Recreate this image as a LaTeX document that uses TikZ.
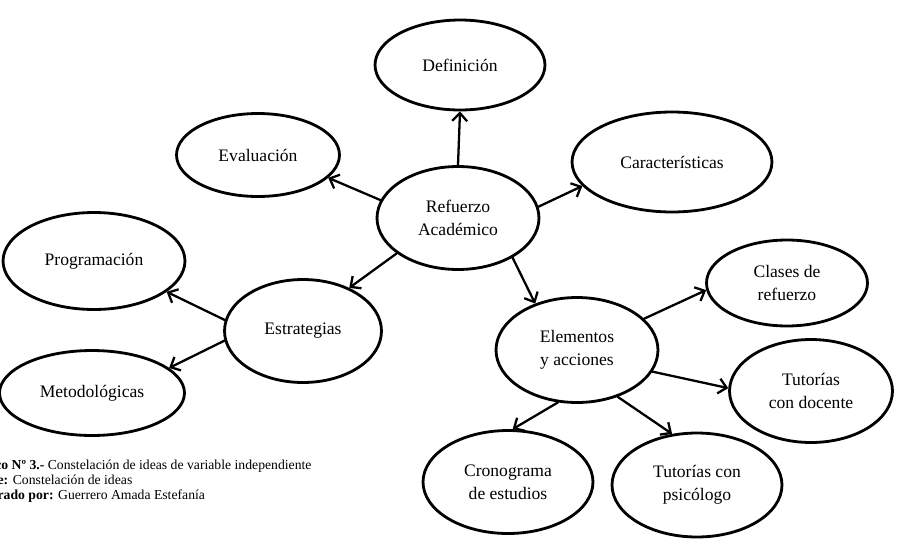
\documentclass[tikz,border=0pt]{standalone}
\usepackage{fontspec}
\setmainfont{Liberation Serif}
\usetikzlibrary{shapes.geometric,arrows.meta}
\tikzset{
    idea/.style={
        draw, ellipse, line width=1.6pt, inner sep=0pt, align=center,
        font=\fontsize{10}{13}\selectfont
    },
    link/.style={
        line width=1.3pt,
        -{Straight Barb[length=1.6mm,width=3mm,line width=1.3pt]}
    },
    capt/.style={
        anchor=north west, align=left, inner sep=0pt,
        font=\fontsize{7.8}{8.8}\selectfont
    }
}
\begin{document}
\begin{tikzpicture}[x=0.02cm,y=-0.02cm,line cap=round,line join=round]

% --- frame (pixel grid, y down) ---
    \useasboundingbox (0,0) rectangle (900,538);

% central idea
    \node[idea, minimum width=3.24cm, minimum height=2.06cm] (ref) at (458,218) {Refuerzo\\Académico};

% first ring
    \node[idea, minimum width=3.4cm,  minimum height=1.8cm]  (def) at (460,65)  {Definición};
    \node[idea, minimum width=3.26cm, minimum height=1.66cm] (eva) at (258,155) {Evaluación};
    \node[idea, minimum width=4.0cm,  minimum height=2.0cm]  (car) at (672,162) {Características};
    \node[idea, minimum width=3.14cm, minimum height=2.06cm] (est) at (303,331) {Estrategias};
    \node[idea, minimum width=3.24cm, minimum height=2.1cm]  (ele) at (577,350) {Elementos\\y acciones};

% strategies
    \node[idea, minimum width=3.64cm, minimum height=1.94cm] (pro) at (94,261) {Programación};
    \node[idea, minimum width=3.7cm,  minimum height=1.7cm]  (met) at (92,393) {Metodológicas};

% elements and actions
    \node[idea, minimum width=3.22cm, minimum height=1.72cm] (cla) at (787,283) {Clases de\\refuerzo};
    \node[idea, minimum width=3.26cm, minimum height=2.06cm] (doc) at (811,391) {Tutorías\\con docente};
    \node[idea, minimum width=3.4cm,  minimum height=2.06cm] (cro) at (508,482) {Cronograma\\de estudios};
    \node[idea, minimum width=3.4cm,  minimum height=2.08cm] (psi) at (697,485) {Tutorías con\\psicólogo};

% arrows
    \draw[link] (ref.north) -- (def.south);
    \draw[link] (ref.167) -- (eva.-18);
    \draw[link] (ref.8)   -- (car.-165);
    \draw[link] (ref.-150) -- (est.43);
    \draw[link] (ref.-36) -- (ele.132);
    \draw[link] (est.172) -- (pro.-23);
    \draw[link] (est.-173) -- (met.18);
    \draw[link] (ele.25)  -- (cla.185);
    \draw[link] (ele.-16) -- (doc.178);
    \draw[link] (ele.-110) -- (cro.85);
    \draw[link] (ele.-49) -- (psi.116);

% caption (cut at the left edge)
    \begin{scope}
      \clip (0,0) rectangle (900,538);
      \node[capt] (cap) at (-37,459) {\textbf{Gráfico Nº 3.-} Constelación de ideas de variable independiente\\
        \textbf{Fuente:} Constelación de ideas\\
        \textbf{Elaborado por:} Guerrero Amada Estefanía};
    \end{scope}

  \end{tikzpicture}
\end{document}
